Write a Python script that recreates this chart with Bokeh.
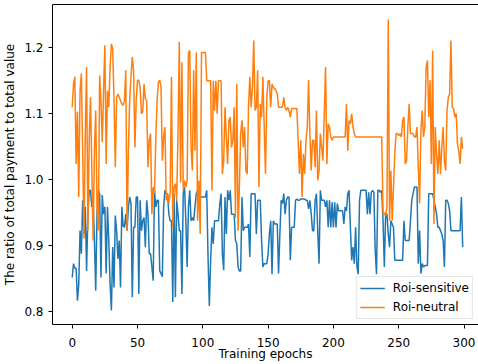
from bokeh.plotting import figure
from bokeh.models import FixedTicker, LinearAxis, Range1d, PrintfTickFormatter
from bokeh.embed import file_html
from bokeh.resources import INLINE

epochs = list(range(300))

roi_sensitive = [
    0.852, 0.873, 0.866, 0.866, 0.817, 0.842, 0.923, 0.888, 0.969, 0.918,
    0.959, 0.862, 0.948, 0.984, 0.984, 0.959, 0.969, 0.908, 0.832, 0.950,
    0.984, 0.979, 0.852, 0.977, 0.948, 0.959, 0.858, 0.959, 0.908, 0.842,
    0.802, 0.898, 0.837, 0.946, 0.923, 0.880, 0.908, 0.837, 0.959, 0.930,
    0.928, 0.948, 0.923, 0.959, 0.974, 0.964, 0.822, 0.928, 0.928, 0.974,
    0.974, 0.827, 0.969, 0.923, 0.938, 0.943, 0.898, 0.969, 0.948, 0.888,
    0.888, 0.868, 0.847, 0.984, 0.959, 0.969, 0.969, 0.862, 0.858, 0.853,
    0.959, 0.984, 0.979, 0.979, 0.948, 0.938, 0.938, 0.815, 0.979, 0.822,
    0.969, 0.948, 0.923, 0.923, 0.827, 0.979, 0.989, 0.938, 0.868, 0.959,
    0.984, 0.938, 0.943, 0.938, 0.959, 0.979, 0.984, 0.974, 0.974, 0.974,
    0.974, 0.974, 0.974, 0.984, 0.883, 0.809, 0.878, 0.928, 0.903, 0.938,
    0.938, 0.938, 0.938, 0.963, 0.979, 0.888, 0.863, 0.974, 0.918, 0.984,
    0.969, 0.984, 0.948, 0.948, 0.948, 0.908, 0.903, 0.868, 0.862, 0.862,
    0.974, 0.923, 0.928, 0.928, 0.928, 0.933, 0.883, 0.979, 0.979, 0.979,
    0.979, 0.918, 0.969, 0.969, 0.969, 0.908, 0.868, 0.873, 0.873, 0.873,
    0.888, 0.918, 0.938, 0.857, 0.938, 0.933, 0.933, 0.933, 0.858, 0.918,
    0.969, 0.964, 0.979, 0.948, 0.969, 0.974, 0.974, 0.878, 0.928, 0.928,
    0.928, 0.969, 0.971, 0.969, 0.969, 0.971, 0.971, 0.971, 0.971, 0.969,
    0.969, 0.956, 0.969, 0.948, 0.923, 0.923, 0.969, 0.979, 0.923, 0.873,
    0.984, 0.969, 0.969, 0.969, 0.959, 0.969, 0.928, 0.969, 0.928, 0.966,
    0.928, 0.966, 0.928, 0.964, 0.953, 0.953, 0.953, 0.953, 0.933, 0.959,
    0.953, 0.979, 0.984, 0.928, 0.878, 0.898, 0.873, 0.928, 0.868, 0.857,
    0.969, 0.984, 0.984, 0.984, 0.984, 0.984, 0.948, 0.981, 0.948, 0.981,
    0.984, 0.981, 0.893, 0.857, 0.984, 0.984, 0.981, 0.984, 0.938, 0.868,
    0.948, 0.948, 0.918, 0.898, 0.938, 0.933, 0.928, 0.878, 0.878, 0.878,
    0.878, 0.878, 0.878, 0.878, 0.938, 0.908, 0.908, 0.908, 0.908, 0.938,
    0.969, 0.979, 0.989, 0.989, 0.989, 0.873, 0.923, 0.858, 0.873, 0.868,
    0.870, 0.870, 0.870, 0.979, 0.979, 0.979, 0.979, 0.969, 0.959, 0.948,
    0.928, 0.928, 0.923, 0.918, 0.908, 0.868, 0.969, 0.969, 0.964, 0.953,
    0.923, 0.923, 0.923, 0.923, 0.923, 0.923, 0.923, 0.923, 0.974, 0.898,
]

roi_neutral = [
    1.110, 1.145, 1.156, 1.024, 1.103, 0.974, 1.135, 1.161, 1.044, 0.911,
    1.070, 1.171, 0.923, 1.060, 1.125, 1.019, 0.908, 1.044, 1.105, 0.959,
    0.923, 1.158, 1.120, 1.057, 1.135, 1.204, 1.024, 1.135, 1.110, 1.171,
    1.206, 1.198, 1.120, 1.019, 1.125, 1.130, 1.125, 1.120, 1.115, 1.113,
    1.120, 1.166, 0.923, 1.044, 1.120, 1.156, 1.186, 1.166, 1.049, 1.120,
    1.151, 1.151, 1.140, 1.100, 1.103, 1.145, 1.123, 1.120, 1.019, 1.060,
    1.070, 0.948, 0.989, 0.979, 1.060, 1.120, 1.148, 1.151, 1.140, 1.029,
    1.065, 1.080, 0.969, 0.979, 0.964, 0.979, 1.156, 0.928, 0.989, 0.994,
    0.969, 1.070, 1.209, 0.996, 1.178, 0.984, 0.999, 0.989, 0.999, 1.193,
    1.196, 1.049, 1.014, 1.166, 1.044, 1.193, 0.938, 0.999, 0.918, 1.193,
    1.193, 1.193, 1.193, 1.150, 1.150, 1.150, 1.150, 0.984, 1.150, 1.105,
    1.150, 1.100, 1.150, 1.150, 1.150, 1.009, 1.029, 1.110, 1.065, 1.024,
    1.090, 1.095, 1.049, 1.060, 1.110, 0.943, 1.145, 0.923, 0.989, 1.070,
    1.090, 1.049, 1.080, 1.014, 1.009, 1.110, 1.156, 1.110, 1.140, 1.211,
    1.105, 1.110, 1.166, 0.989, 1.115, 1.095, 1.156, 1.080, 1.009, 1.125,
    1.150, 1.150, 1.110, 1.145, 1.140, 1.138, 1.135, 1.130, 1.110, 1.110,
    1.110, 1.110, 1.125, 1.110, 1.105, 1.110, 1.105, 1.095, 1.108, 1.108,
    1.108, 1.108, 1.108, 1.060, 1.009, 1.060, 0.974, 1.039, 1.009, 1.060,
    1.080, 1.151, 1.070, 1.014, 1.060, 1.060, 1.019, 1.105, 0.999, 1.014,
    1.070, 1.049, 1.029, 1.100, 1.171, 1.024, 1.085, 1.080, 1.065, 1.060,
    1.065, 1.065, 1.065, 1.065, 1.065, 1.065, 1.065, 1.065, 1.065, 1.065,
    1.115, 1.044, 1.090, 1.085, 1.100, 1.080, 1.070, 1.065, 1.065, 1.065,
    1.065, 1.065, 1.065, 1.065, 1.065, 1.065, 1.065, 1.065, 1.065, 1.065,
    1.065, 1.065, 1.065, 1.065, 1.065, 1.065, 1.065, 1.065, 0.948, 0.950,
    0.945, 0.960, 1.243, 0.938, 1.014, 0.938, 0.989, 1.040, 1.070, 1.070,
    1.067, 1.070, 1.065, 1.090, 1.095, 1.024, 1.029, 1.080, 1.115, 1.070,
    1.070, 1.070, 1.065, 1.065, 1.080, 1.019, 0.964, 1.075, 1.105, 1.065,
    1.080, 1.171, 1.181, 1.095, 1.151, 1.024, 1.196, 0.933, 1.080, 1.039,
    1.009, 1.060, 1.009, 1.049, 1.080, 1.029, 1.014, 1.105, 1.125, 1.130,
    1.211, 1.110, 1.108, 1.095, 1.100, 1.055, 1.044, 1.024, 1.065, 1.047,
]

x_ticks = [0, 50, 100, 150, 200, 250, 300]
y_ticks = [0.8, 0.9, 1.0, 1.1, 1.2]

FONT = "DejaVu Sans"
FS = "12px"

p = figure(width=478, height=364, output_backend="svg", toolbar_location=None,
           x_range=Range1d(-15.1, 311.1), y_range=Range1d(0.7808, 1.2656),
           min_border_left=52, min_border_right=0, min_border_top=4, min_border_bottom=40)
p.background_fill_color = "white"
p.border_fill_color = "white"
p.grid.visible = False
p.outline_line_color = None

p.line(epochs, roi_sensitive, line_color="#1f77b4", line_width=1.5, legend_label="Roi-sensitive")
p.line(epochs, roi_neutral, line_color="#ff7f0e", line_width=1.5, legend_label="Roi-neutral")

for ax in (p.xaxis[0], p.yaxis[0]):
    ax.axis_line_color = "black"
    ax.axis_line_width = 1
    ax.major_tick_line_color = "black"
    ax.major_tick_in = 0
    ax.major_tick_out = 4
    ax.minor_tick_line_color = None
    ax.major_label_text_font = FONT
    ax.major_label_text_font_size = FS
    ax.major_label_text_color = "black"
    ax.axis_label_text_font = FONT
    ax.axis_label_text_font_size = FS
    ax.axis_label_text_font_style = "normal"
    ax.axis_label_text_color = "black"

p.xaxis[0].ticker = FixedTicker(ticks=x_ticks)
p.yaxis[0].ticker = FixedTicker(ticks=y_ticks)
p.yaxis[0].formatter = PrintfTickFormatter(format="%.1f")
p.xaxis[0].axis_label = "Training epochs"
p.yaxis[0].axis_label = "The ratio of total payment to total value"
p.xaxis[0].major_label_standoff = 9
p.xaxis[0].axis_label_standoff = -3
p.yaxis[0].major_label_standoff = 5
p.yaxis[0].axis_label_standoff = 4

top = LinearAxis(ticker=FixedTicker(ticks=[]), axis_line_color="black", axis_line_width=1,
                 major_tick_out=0, major_tick_in=0, minor_tick_out=0, minor_tick_in=0,
                 major_label_standoff=0, axis_label=None)
p.add_layout(top, "above")

lg = p.legend[0]
lg.location = "bottom_right"
lg.margin = 5
lg.padding = 3
lg.spacing = 3
lg.glyph_width = 25
lg.glyph_height = 16
lg.label_height = 16
lg.label_standoff = 8
lg.label_text_font = FONT
lg.label_text_font_size = FS
lg.label_text_color = "black"
lg.border_line_color = "#cccccc"
lg.border_line_width = 1
lg.background_fill_color = "white"
lg.background_fill_alpha = 0.8

open("out.html", "w").write(file_html(p, INLINE))
